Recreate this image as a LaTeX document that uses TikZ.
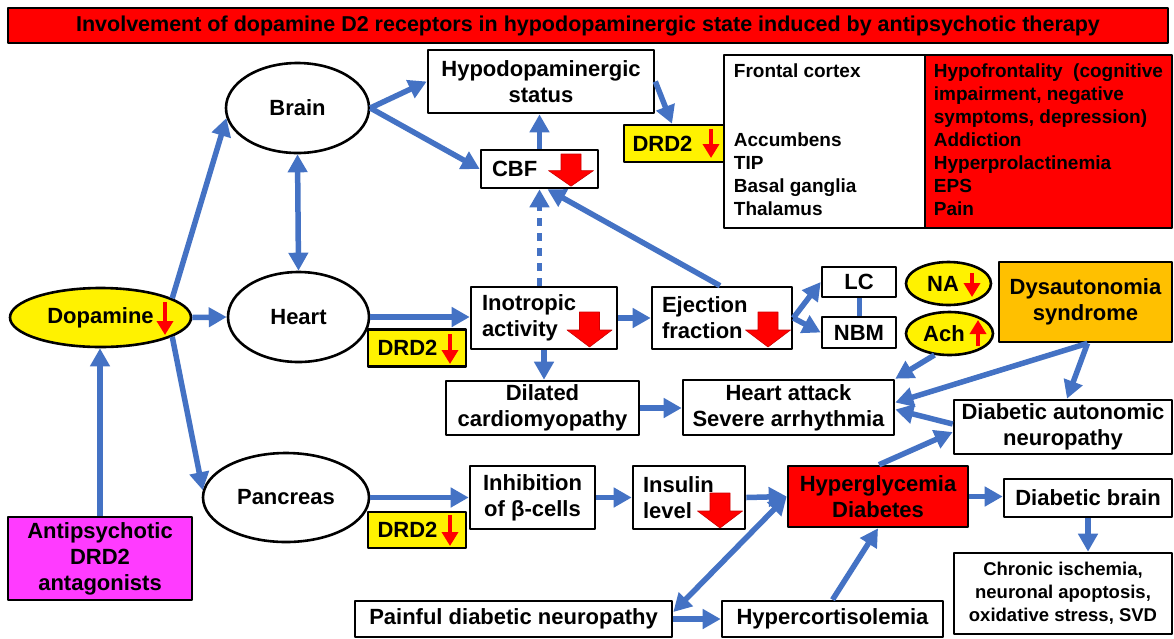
\documentclass[tikz,border=0pt]{standalone}
\usepackage{fontspec}
\setmainfont{Liberation Sans}
\usetikzlibrary{arrows.meta,shapes.geometric}
\definecolor{arrblue}{HTML}{4472C4}
\definecolor{dysorange}{HTML}{FFC000}
\definecolor{antimag}{HTML}{FF3BFF}
\begin{document}
\begin{tikzpicture}[x=1pt, y=-1pt, line join=round, font=\bfseries\fontsize{22}{26}\selectfont,
  >={Triangle[length=18pt,width=19pt]},
  box/.style={draw, line width=2.6pt, fill=white, align=center, inner sep=0pt},
  organ/.style={ellipse, draw, line width=2.6pt, fill=white, inner sep=0pt},
  drdbox/.style={box, fill=yellow},
  tabtext/.style={align=left, inner sep=0pt, font=\bfseries\fontsize{19}{23}\selectfont},
  flow/.style={->, arrblue, line width=5.5pt},
  twoway/.style={<->, arrblue, line width=5.5pt},
  thinred/.style={-{Triangle[length=14pt,width=16pt]}, red, line width=3.5pt},
  bigdown/.pic={\filldraw[red, draw=red!80!black, line width=0.6pt] (-10,0) -- (10,0) -- (10,18) -- (22.5,18) -- (0,35) -- (-22.5,18) -- (-10,18) -- cycle;}]
\fill[white] (0,0) rectangle (1174,638);
\useasboundingbox (0,0) rectangle (1174,638);
\node[box, fill=red, minimum width=1160, minimum height=35, font=\bfseries\fontsize{21.5}{24}\selectfont] (title) at (588,25.5) {Involvement of dopamine D2 receptors in hypodopaminergic state induced by antipsychotic therapy};
% organs
\node[organ, minimum width=143, minimum height=90] (brain) at (297.5,108) {Brain};
\node[organ, minimum width=141, minimum height=90] (heart) at (298.5,317) {Heart};
\node[organ, minimum width=166, minimum height=89] (pancreas) at (286,497.5) {Pancreas};
\node[organ, fill=yellow, minimum width=181, minimum height=59] (dopa) at (100.5,317.5) {Dopamine};
\node[box, fill=antimag, minimum width=184, minimum height=83] (anti) at (100,558.5) {Antipsychotic\\DRD2\\antagonists};
% brain branch
\node[box, minimum width=226, minimum height=63] (hypo) at (541,81.5) {Hypodopaminergic\\status};
\node[box, align=left, text width=95, minimum width=117, minimum height=38] (cbf) at (539.5,169) {CBF};
\node[drdbox, minimum width=100, minimum height=37] (drdA) at (674,143.5) {DRD2\hspace*{23pt}};
\node[box, minimum width=201, minimum height=173] (regions) at (824.5,141.5) {};
\node[box, fill=red, minimum width=247, minimum height=173] (effects) at (1048.5,141.5) {};
\node[tabtext, anchor=north west] (regtxt) at ([shift={(11,10)}]regions.north west) {Frontal cortex\\[46pt]Accumbens\\TIP\\Basal ganglia\\Thalamus};
\node[tabtext, anchor=north west] (efftxt) at ([shift={(10,10)}]effects.north west) {Hypofrontality~ (cognitive\\impairment, negative\\symptoms, depression)\\Addiction\\Hyperprolactinemia\\EPS\\Pain};
% heart branch
\node[box, align=left, text width=124, minimum width=146, minimum height=62] (ino) at (544,318) {Inotropic\\activity};
\node[box, align=left, text width=120, minimum width=140, minimum height=62] (ejec) at (722,318) {Ejection\\fraction};
\node[box, minimum width=74, minimum height=30] (lc) at (859,282) {LC};
\node[box, minimum width=74, minimum height=31] (nbm) at (859,332.5) {NBM};
\node[organ, fill=yellow, minimum width=85, minimum height=43] (na) at (948.5,283.5) {NA\hspace*{11pt}};
\node[organ, fill=yellow, minimum width=87, minimum height=43] (ach) at (949.5,333.5) {Ach\hspace*{11pt}};
\node[box, fill=dysorange, minimum width=173, minimum height=80] (dys) at (1085.5,302) {Dysautonomia\\syndrome};
\node[drdbox, minimum width=98, minimum height=37] (drdH) at (417,348) {DRD2\hspace*{19pt}};
\node[box, minimum width=193, minimum height=54] (dil) at (542.5,408) {Dilated\\cardiomyopathy};
\node[box, minimum width=211, minimum height=55] (ha) at (788.5,407.5) {Heart attack\\Severe arrhythmia};
\node[box, minimum width=218, minimum height=54] (dan) at (1063,427) {Diabetic autonomic\\neuropathy};
% pancreas branch
\node[drdbox, minimum width=98, minimum height=36] (drdP) at (417,530) {DRD2\hspace*{19pt}};
\node[box, minimum width=125, minimum height=63] (inh) at (532.5,497.5) {Inhibition\\of β-cells};
\node[box, align=left, text width=92, minimum width=112, minimum height=63] (ins) at (689,497.5) {Insulin\\level};
\node[box, fill=red, minimum width=180, minimum height=61] (hyper) at (878,496.5) {Hyperglycemia\\Diabetes};
\node[box, minimum width=168, minimum height=38] (dbrain) at (1088,498) {Diabetic brain};
\node[box, minimum width=218, minimum height=81, font=\bfseries\fontsize{18.5}{23}\selectfont] (chron) at (1063,593.5) {Chronic ischemia,\\neuronal apoptosis,\\oxidative stress, SVD};
\node[box, minimum width=317, minimum height=36] (pain) at (513.5,619) {Painful diabetic neuropathy};
\node[box, minimum width=221, minimum height=36] (hcort) at (832.5,619) {Hypercortisolemia};
% red arrows
\pic[yscale=0.92] at (571,154) {bigdown};
\pic at (589.5,312) {bigdown};
\pic at (768,312) {bigdown};
\pic at (720,493) {bigdown};
\draw[thinred] ([shift={(64.5,-15.5)}]dopa.center) -- ([shift={(64.5,17.5)}]dopa.center);
\draw[thinred] ([shift={(37,-15)}]drdA.center) -- ([shift={(37,14.5)}]drdA.center);
\draw[thinred] ([shift={(33,-14)}]drdH.center) -- ([shift={(33,16)}]drdH.center);
\draw[thinred] ([shift={(33,-15)}]drdP.center) -- ([shift={(33,16)}]drdP.center);
\draw[thinred] ([shift={(23.5,-10.5)}]na.center) -- ([shift={(23.5,13.5)}]na.center);
\draw[thinred] ([shift={(28.5,12.5)}]ach.center) -- ([shift={(28.5,-13.5)}]ach.center);
% connectors
\draw[flow] (dopa.15) -- (brain.188);
\draw[flow] (dopa.east) -- (heart.west);
\draw[flow] (dopa.-15) -- (pancreas.175);
\draw[flow] (anti.north) -- (anti.north |- dopa.south);
\draw[twoway] (brain.south) -- (heart.north);
\draw[flow] (brain.east) -- (hypo.west);
\draw[flow] (brain.east) -- (cbf.west);
\draw[flow] (cbf.north) -- (cbf.north |- hypo.south);
\draw[flow] (hypo.east) -- ([xshift=-2pt]drdA.north);
\draw[flow, dash pattern=on 8pt off 7pt] (cbf.south |- ino.north) -- (cbf.south);
\draw[flow] ([xshift=-2pt]ejec.north) -- ([xshift=8pt]cbf.south);
\draw[flow] (heart.east) -- (heart.east -| ino.west);
\draw[flow] (ino.east) -- (ejec.west);
\draw[flow] (ino.south) -- (ino.south |- dil.north);
\draw[flow] (ejec.east) -- (lc.west);
\draw[flow] (ejec.east) -- (nbm.west);
\draw[arrblue, line width=5pt] (lc.south) -- (nbm.north);
\draw[flow] (dil.east) -- (dil.east -| ha.west);
\draw[flow] (ach.235) -- (ha.north east);
\draw[flow] ([xshift=2pt]dys.south) -- ([shift={(0,-5)}]ha.east);
\draw[flow] ([xshift=2pt]dys.south) -- ([xshift=4pt]dan.north);
\draw[flow] ([shift={(0,-3)}]dan.west) -- ([shift={(0,2)}]ha.east);
\draw[flow] ([xshift=1pt]hyper.north) -- ([shift={(0,5)}]dan.west);
\draw[flow] (pancreas.east) -- (pancreas.east -| inh.west);
\draw[flow] (inh.east) -- (ins.west);
\draw[flow] (ins.east) -- (hyper.west);
\draw[flow] (hyper.east) -- (hyper.east -| dbrain.west);
\draw[flow] (dbrain.south) -- (dbrain.south |- chron.north);
\draw[twoway] (hyper.west) -- ([shift={(0,-7)}]pain.east);
\draw[flow] (pain.east) -- (pain.east -| hcort.west);
\draw[flow] (hcort.north) -- (hyper.south);
\end{tikzpicture}
\end{document}
